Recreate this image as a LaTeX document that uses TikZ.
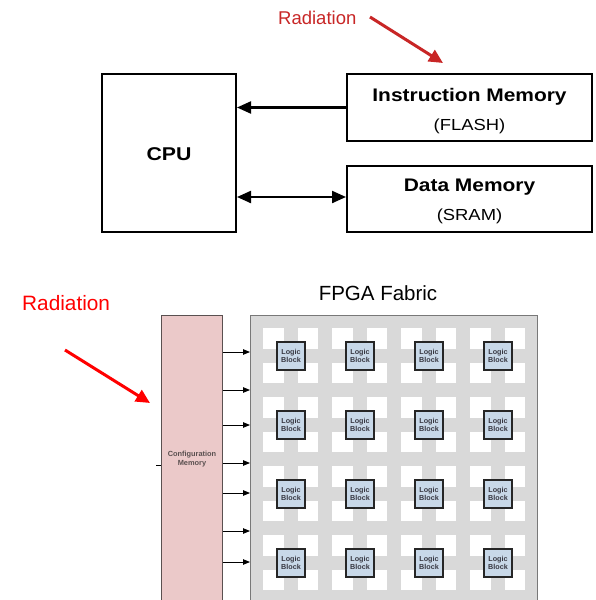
\documentclass[tikz,border=0pt]{standalone}
\usepackage{fontspec}
\setmainfont{Liberation Sans}
\newfontfamily\widefont[FakeStretch=1.15]{Liberation Sans}
\usetikzlibrary{arrows.meta}
\definecolor{raddark}{RGB}{200,38,38}
\definecolor{radred}{RGB}{255,0,0}
\definecolor{cfgpink}{RGB}{235,201,201}
\definecolor{cfgedge}{RGB}{90,80,80}
\definecolor{fabgray}{RGB}{217,217,217}
\definecolor{fabedge}{RGB}{120,120,120}
\definecolor{lbfill}{RGB}{200,216,232}
\definecolor{lbtext}{RGB}{55,55,65}
\tikzset{
  blk/.style={draw=black, line width=2pt, fill=white, inner sep=0pt},
  conn/.style={line width=2.2pt, -{Triangle[length=14pt,width=12pt]}},
  bconn/.style={line width=2.2pt, {Triangle[length=14pt,width=12pt]}-{Triangle[length=14pt,width=12pt]}},
  radarrow/.style={line width=3pt, -{Triangle[length=14pt,width=13pt]}},
  carrow/.style={line width=0.9pt, -{Triangle[length=7pt,width=5.5pt]}},
  lblock/.style={draw=black!85, line width=1.8pt, fill=lbfill, minimum width=28pt, minimum height=28pt,
    inner sep=0pt, align=center, text=lbtext, font=\bfseries\fontsize{7.2}{8.8}\selectfont},
  cfgmem/.style={draw=cfgedge, line width=1pt, fill=cfgpink, inner sep=0pt, anchor=north west},
  fabric/.style={draw=fabedge, line width=1.2pt, fill=fabgray, inner sep=0pt, anchor=north west},
}
\begin{document}
\begin{tikzpicture}[x=1pt,y=-1pt]
\useasboundingbox (0,0) rectangle (596,600);
\fill[white] (0,0) rectangle (596,600);
% ---------- top part ----------
\node[text=raddark, anchor=base west, inner sep=0pt, font=\fontsize{18.5}{20}\selectfont] (rad1) at (278,24) {Radiation};
\coordinate (r1s) at (370,17);
\coordinate (r1e) at (443,63);
\draw[radarrow, draw=raddark, fill=raddark] (r1s) -- (r1e);

\node[blk, minimum width=134pt, minimum height=158pt] (cpu) at (169,153) {};
\node[anchor=base, inner sep=0pt, font=\widefont\bfseries\fontsize{18.5}{20}\selectfont] (cputxt) at (169,160.7) {CPU};

\node[blk, minimum width=245pt, minimum height=67pt] (inst) at (469.5,107.5) {};
\node[anchor=base, inner sep=0pt, font=\widefont\bfseries\fontsize{18.2}{20}\selectfont] (insttxt) at (469.5,101.7) {Instruction Memory};
\node[anchor=base, inner sep=0pt, font=\widefont\fontsize{16}{18}\selectfont] (flash) at (469.5,130) {(FLASH)};

\node[blk, minimum width=245pt, minimum height=66pt] (data) at (469.5,199) {};
\node[anchor=base, inner sep=0pt, font=\widefont\bfseries\fontsize{18.2}{20}\selectfont] (datatxt) at (469.5,191.7) {Data Memory};
\node[anchor=base, inner sep=0pt, font=\widefont\fontsize{16}{18}\selectfont] (sram) at (469.5,220.5) {(SRAM)};

\draw[conn] (inst.west) -- (cpu.east |- inst.west);
\draw[bconn] ([yshift=2pt]cpu.east |- data.west) -- ([yshift=2pt]data.west);

% ---------- bottom part ----------
\node[text=radred, anchor=base west, inner sep=0pt, font=\fontsize{20.8}{22}\selectfont] (rad2) at (22,310.7) {Radiation};
\node[anchor=base, inner sep=0pt, font=\fontsize{20.5}{22}\selectfont] (fpga) at (378,300) {FPGA Fabric};

\begin{scope}
\clip (0,0) rectangle (596,600);
\node[fabric, minimum width=287pt, minimum height=300pt] (fab) at (250,315) {};
\foreach \i in {0,...,7}{
  \foreach \j in {0,...,7}{
    \fill[white] ({263+34.5*\i},{328+34.5*\j}) rectangle +(20.5,20.5);
  }
}
\foreach \c in {0,...,3}{
  \foreach \r in {0,...,3}{
    \node[lblock] (lb-\r-\c) at ({291+69*\c},{356+69*\r}) {Logic\\Block};
  }
}
\node[cfgmem, minimum width=61pt, minimum height=300pt] (cfg) at (161,315) {};
\end{scope}
\node[align=center, inner sep=0pt, text=cfgedge, font=\bfseries\fontsize{7.4}{9}\selectfont] (cfgtxt) at (192,459.5) {Configuration\\Memory};
\coordinate (tick) at (156,465);
\draw[line width=0.8pt] (tick) -- (tick -| cfg.west);

\foreach \yy in {352,390,425,463,493,531,562}{
  \draw[carrow] (cfg.east |- 0,\yy) -- (fab.west |- 0,\yy);
}

\coordinate (r2s) at (65,350);
\coordinate (r2e) at (150,403);
\draw[radarrow, draw=radred, fill=radred] (r2s) -- (r2e);
\end{tikzpicture}
\end{document}
